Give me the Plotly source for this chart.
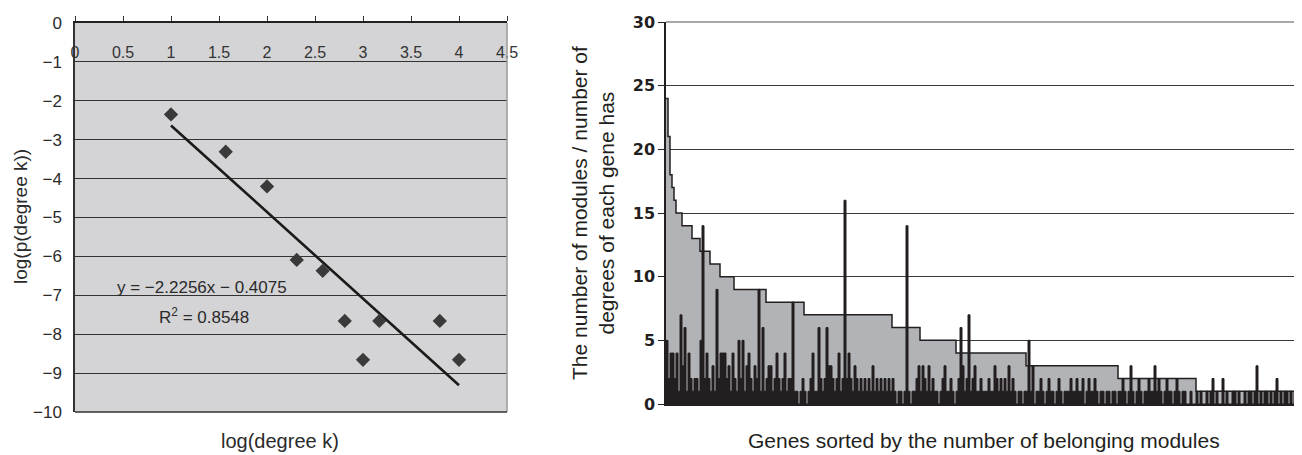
import plotly.graph_objects as go

# page has an 8px body margin; lay the figure out in reference pixel coordinates
OFF = 8
FW, FH = 1302 - OFF, 455 - OFF

# ---------------- Left chart data (log-log degree distribution) ----------------
log_k = [1.0, 1.57, 2.0, 2.31, 2.58, 2.81, 3.0, 3.17, 3.8, 4.0]
log_p = [-2.35, -3.31, -4.2, -6.09, -6.37, -7.66, -8.66, -7.66, -7.66, -8.66]
fit_slope = -2.2256
fit_intercept = -0.4075
fit_r2 = 0.8548
fit_x = [1.0, 4.0]
left_xticks = [0, 0.5, 1, 1.5, 2, 2.5, 3, 3.5, 4, 4.5]
left_xticklabels = ["0", "0.5", "1", "1.5", "2", "2.5", "3", "3.5", "4", "4.5"]
left_yticks = [0, -1, -2, -3, -4, -5, -6, -7, -8, -9, -10]

# ---------------- Right chart data ----------------
# number of modules per gene (sorted), as levels and number of genes at each level
module_levels = [24, 21, 18, 17, 16, 15, 14, 13, 12, 11, 10, 9, 8, 7, 6, 5, 4, 3, 2, 1]
module_counts = [1, 1, 1, 1, 1, 3, 5, 4, 5, 5, 7, 16, 19, 44, 14, 18, 35, 46, 39, 53]

# number of modules / number of degrees for each gene (read in four segments)
ratio_seg1 = [5, 2, 4, 4, 2, 4, 1, 7, 3, 6,
              1, 4, 2, 1, 2, 2, 1, 5, 14, 2,
              4, 2, 1, 3, 1, 9, 2, 4, 4, 4,
              2, 3, 1, 4, 2, 1, 5, 2, 5, 1,
              3, 4, 2, 1, 3, 2, 9, 1, 6, 1,
              2, 3, 3, 1, 2, 4, 2, 1, 2, 4,
              1, 2, 2, 8, 1, 1, 0, 1, 2, 1,
              0, 1, 2, 4, 1, 1, 6, 2, 1, 2]
ratio_seg2 = [6, 3, 3, 2, 1, 2, 4, 1, 2, 16,
              2, 4, 2, 1, 3, 2, 1, 2, 1, 2,
              1, 2, 1, 3, 1, 2, 1, 2, 1, 2,
              1, 2, 1, 2, 1, 0, 1, 1, 0, 1,
              14, 1, 0, 1, 1, 2, 3, 1, 3, 2,
              1, 3, 1, 2, 1, 1, 0, 1, 2, 3,
              1, 1, 2, 1, 0, 1, 2, 6, 3, 1,
              2, 7, 1, 2, 3, 1, 1, 2, 1, 1]
ratio_seg3 = [1, 2, 1, 1, 3, 2, 1, 2, 1, 2,
              1, 3, 1, 2, 1, 0, 1, 1, 0, 1,
              1, 5, 1, 3, 0, 1, 1, 2, 1, 0,
              1, 2, 1, 1, 0, 1, 2, 1, 0, 1,
              1, 1, 2, 1, 1, 2, 1, 1, 2, 0,
              1, 2, 1, 1, 2, 1, 0, 1, 1, 0,
              1, 1, 0, 1, 1, 0, 1, 1, 2, 1,
              0, 1, 3, 1, 0, 1, 2, 1, 0, 1]
ratio_seg4 = [1, 2, 1, 1, 3, 1, 2, 1, 0, 1,
              2, 1, 1, 0, 1, 2, 1, 0, 1, 1,
              0, 0, 1, 0, 0, 1, 0, 1, 0, 0,
              1, 0, 1, 2, 0, 1, 0, 0, 2, 0,
              1, 0, 0, 1, 1, 0, 1, 0, 0, 1,
              0, 1, 1, 0, 1, 3, 0, 1, 0, 1,
              1, 0, 1, 0, 1, 2, 0, 1, 0, 1,
              1, 0, 1, 0, 1, 0, 1, 1]
right_yticks = [0, 5, 10, 15, 20, 25, 30]

ratio_values = ratio_seg1 + ratio_seg2 + ratio_seg3 + ratio_seg4
n_genes = sum(module_counts)

# step series for modules
step_x, step_y = [], []
pos = 0
for lv, c in zip(module_levels, module_counts):
    step_x.append(pos)
    step_y.append(lv)
    pos += c
step_x.append(pos)
step_y.append(module_levels[-1])

ratio_x = list(range(len(ratio_values))) + [len(ratio_values)]
ratio_y = ratio_values + [ratio_values[-1]]

fit_y = [fit_slope * x + fit_intercept for x in fit_x]


def px(x):
    return (x - OFF) / FW


def py(y):
    return 1 - (y - OFF) / FH


# ---------------- figure ----------------
LFONT = "Liberation Sans, Arial, sans-serif"
fig = go.Figure()

fig.add_trace(go.Scatter(x=fit_x, y=fit_y, mode="lines",
                         line=dict(color="#1a1a1a", width=2.6),
                         xaxis="x", yaxis="y", showlegend=False, hoverinfo="skip"))
fig.add_trace(go.Scatter(x=log_k, y=log_p, mode="markers",
                         marker=dict(symbol="diamond", size=11, color="#3a3a3a"),
                         xaxis="x", yaxis="y", showlegend=False))

fig.add_trace(go.Scatter(x=step_x, y=step_y, mode="lines", line_shape="hv",
                         line=dict(color="#231f20", width=1.5),
                         fill="tozeroy", fillcolor="#b2b3b6",
                         xaxis="x2", yaxis="y2", showlegend=False))
fig.add_trace(go.Scatter(x=ratio_x, y=ratio_y, mode="lines", line_shape="hv",
                         line=dict(color="#231f20", width=1),
                         fill="tozeroy", fillcolor="#231f20",
                         xaxis="x2", yaxis="y2", showlegend=False))

fig.update_layout(
    width=FW, height=FH,
    margin=dict(l=0, r=0, t=0, b=0),
    paper_bgcolor="white", plot_bgcolor="rgba(0,0,0,0)",
    font=dict(family=LFONT, color="#2a2a2a"),
    xaxis=dict(domain=[px(75), px(507)], anchor="y", side="top", range=[0, 4.5],
               tickvals=left_xticks, ticktext=left_xticklabels,
               ticks="outside", ticklen=5, tickcolor="#333", tickwidth=1,
               showline=True, linecolor="#222", linewidth=1.5,
               showgrid=False, zeroline=False, automargin=False,
               ticklabelposition="inside", ticklabelstandoff=24,
               ticklabeloverflow="allow",
               tickfont=dict(size=16, color="#333")),
    yaxis=dict(domain=[py(412), py(23)], anchor="x", range=[-10, 0],
               tickvals=left_yticks, showgrid=True, gridcolor="#333", gridwidth=1,
               zeroline=False, showline=True, linecolor="#333", linewidth=1.5,
               ticks="", ticklabelstandoff=8, automargin=False,
               tickfont=dict(size=17, color="#2a2a2a")),
    xaxis2=dict(domain=[px(666), 1.0], anchor="y2", range=[0, n_genes],
                showticklabels=False, showgrid=False, zeroline=False, automargin=False,
                showline=True, linecolor="#231f20", linewidth=1.5, ticks=""),
    yaxis2=dict(domain=[py(404), py(22)], anchor="x2", range=[0, 30],
                tickvals=right_yticks, showgrid=True, gridcolor="#3a3a3a", gridwidth=1,
                zeroline=False, showline=True, linecolor="#231f20", linewidth=1.5,
                ticks="outside", ticklen=6, tickcolor="#231f20", automargin=False,
                tickfont=dict(family="DejaVu Sans, sans-serif", size=16,
                              color="#231f20", weight="bold")),
    shapes=[
        dict(type="rect", xref="x domain", yref="y domain", x0=0, x1=1, y0=0, y1=1,
             fillcolor="#d4d4d6", line=dict(width=0), layer="below"),
        dict(type="line", xref="x domain", yref="y domain", x0=1, x1=1, y0=0, y1=1,
             line=dict(color="#9a9a9a", width=1.5), layer="above"),
        dict(type="line", xref="x domain", yref="y domain", x0=0, x1=1, y0=0, y1=0,
             line=dict(color="#333", width=1.5), layer="above"),
        dict(type="line", xref="x2 domain", yref="y2 domain", x0=0, x1=1, y0=1, y1=1,
             line=dict(color="#a8a8a8", width=2), layer="above"),
    ],
    annotations=[
        dict(text="log(p(degree k))", xref="paper", yref="paper",
             x=px(21), y=py(217), textangle=-90, showarrow=False,
             font=dict(size=19, color="#2a2a2a"), xanchor="center", yanchor="middle"),
        dict(text="log(degree k)", xref="paper", yref="paper",
             x=px(280), y=py(441), showarrow=False,
             font=dict(size=20, color="#2a2a2a"), xanchor="center", yanchor="middle"),
        dict(text=f"y = \u2212{abs(fit_slope)}x \u2212 {abs(fit_intercept)}", xref="x", yref="y",
             x=1.32, y=-6.79, showarrow=False,
             font=dict(size=17, color="#2a2a2a"), xanchor="center", yanchor="middle"),
        dict(text=f"R<sup>2</sup> = {fit_r2}", xref="x", yref="y",
             x=1.34, y=-7.53, showarrow=False,
             font=dict(size=17, color="#2a2a2a"), xanchor="center", yanchor="middle"),
        dict(text="The number of modules / number of<br>degrees of each gene has",
             xref="paper", yref="paper", x=px(593), y=py(213), textangle=-90,
             showarrow=False, font=dict(size=21, color="#231f20"),
             xanchor="center", yanchor="middle"),
        dict(text="Genes sorted by the number of belonging modules",
             xref="paper", yref="paper", x=px(984), y=py(440), showarrow=False,
             font=dict(size=21, color="#231f20"), xanchor="center", yanchor="middle"),
    ],
)

fig.write_html("out.html")
